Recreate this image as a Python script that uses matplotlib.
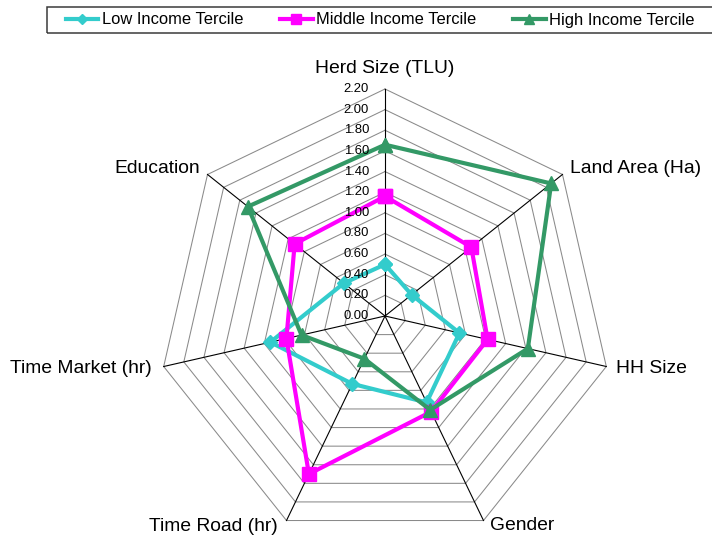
import numpy as np
import matplotlib
matplotlib.use('Agg')
import matplotlib.pyplot as plt
from matplotlib.transforms import offset_copy
from matplotlib.patches import Rectangle

plt.rcParams['font.family'] = ['Liberation Sans', 'DejaVu Sans']

categories = ['Herd Size (TLU)', 'Land Area (Ha)', 'HH Size', 'Gender',
              'Time Road (hr)', 'Time Market (hr)', 'Education']
low = [0.50, 0.33, 0.74, 0.93, 0.73, 1.14, 0.51]
middle = [1.16, 1.07, 1.02, 1.03, 1.70, 0.98, 1.12]
high = [1.66, 2.06, 1.42, 1.01, 0.46, 0.83, 1.70]
series_names = ['Low Income Tercile', 'Middle Income Tercile', 'High Income Tercile']
tick_values = [0.0, 0.2, 0.4, 0.6, 0.8, 1.0, 1.2, 1.4, 1.6, 1.8, 2.0, 2.2]
tick_labels = ['0.00', '0.20', '0.40', '0.60', '0.80', '1.00', '1.20',
               '1.40', '1.60', '1.80', '2.00', '2.20']

W, H = 712, 541
fig = plt.figure(figsize=(W / 100, H / 100), dpi=100)
cx, cy, R = 385, 316, 227
ax = fig.add_axes([(cx - R) / W, (H - cy - R) / H, 2 * R / W, 2 * R / H], projection='polar')
ax.set_theta_zero_location('N')
ax.set_theta_direction(-1)
ax.set_ylim(0, tick_values[-1])
ax.set_axis_off()

n = len(categories)
angles = np.linspace(0, 2 * np.pi, n, endpoint=False)
closed = np.concatenate([angles, angles[:1]])

# polygon grid rings
for r in tick_values[1:]:
    ax.plot(closed, [r] * (n + 1), color='#8a8a8a', lw=0.75, zorder=1, clip_on=False)
# spokes
for a in angles:
    ax.plot([a, a], [0, tick_values[-1]], color='black', lw=0.8, zorder=1.5, clip_on=False)

styles = [
    dict(color='#33CCCC', marker='D', markersize=7),
    dict(color='#FF00FF', marker='s', markersize=10.5),
    dict(color='#339966', marker='^', markersize=10),
]
handles = []
for vals, name, st in zip([low, middle, high], series_names, styles):
    v = list(vals) + [vals[0]]
    h, = ax.plot(closed, v, color=st['color'], lw=3.0, marker=st['marker'],
                 markersize=st['markersize'], markerfacecolor=st['color'],
                 markeredgecolor=st['color'], zorder=3, clip_on=False, label=name)
    handles.append(h)

# radial tick labels
tl_tr = offset_copy(ax.transData, fig=fig, x=-16, y=0, units='dots')
for r, lab in zip(tick_values, tick_labels):
    ax.text(0, r, lab, transform=tl_tr, ha='right', va='center', fontsize=9.4,
            color='black', zorder=5)

# category labels
offsets = [
    (0, 21, 'center'),
    (8, 6, 'left'),
    (10, -1.5, 'left'),
    (7, -4.5, 'left'),
    (-9, -5.5, 'right'),
    (-12, -1.5, 'right'),
    (-8, 6, 'right'),
]
for a, cat, (dx, dy, ha) in zip(angles, categories, offsets):
    tr = offset_copy(ax.transData, fig=fig, x=dx, y=dy, units='dots')
    ax.text(a, tick_values[-1], cat, transform=tr, ha=ha, va='center',
            fontsize=13.85, color='black')

# legend frame
fig.add_artist(Rectangle((46.7 / W, (H - 33) / H), 1.0, 26 / H, transform=fig.transFigure,
                         fill=False, edgecolor='#3a3a3a', lw=1.1, clip_on=False))
fig.legend(handles, series_names, loc='center left', bbox_to_anchor=(65.5 / W, 1 - 20 / H),
           ncol=3, frameon=False, fontsize=11.85, handlelength=2.0, handletextpad=0.2,
           columnspacing=2.22, borderpad=0, borderaxespad=0, markerscale=0.75)

fig.savefig('out.png', dpi=100)
